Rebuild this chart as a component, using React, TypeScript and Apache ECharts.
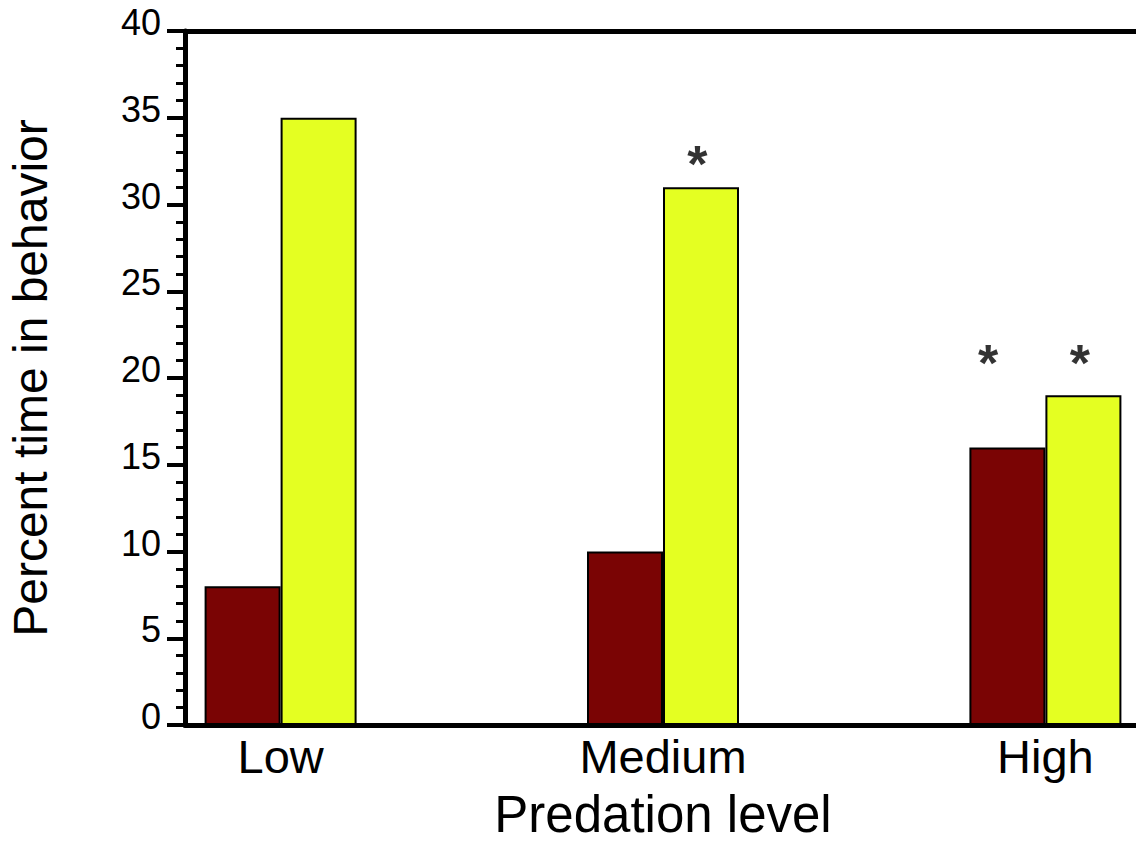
import React, { useEffect, useRef } from "react";
import * as echarts from "echarts";

const categories = ["Low", "Medium", "High"];
const brownValues = [8, 10, 16];
const yellowValues = [35, 31, 19];
// significance markers: [x position in category units, y value of marker centre]
const markerX = [1.09, 1.85, 2.09];
const markerY = [32.8, 21.3, 21.3];
const yTicks = { min: 0, max: 40, interval: 5 };

const FONT = "'Liberation Sans', Arial, Helvetica, sans-serif";

export default function App() {
  const ref = useRef<HTMLDivElement>(null);
  useEffect(() => {
    const chart = echarts.init(ref.current!, null, { renderer: "svg" });
    const xBase = {
      type: "value" as const,
      min: -0.25,
      max: 2.25,
      splitLine: { show: false },
      axisTick: { show: false },
    };
    chart.setOption({
      animation: false,
      backgroundColor: "#ffffff",
      grid: {
        left: 185,
        right: -5,
        top: 31,
        bottom: 118,
        containLabel: false,
        outerBoundsMode: "none",
      },
      xAxis: [
        {
          ...xBase,
          position: "bottom",
          axisLine: { show: true, onZero: false, lineStyle: { color: "#000", width: 5 } },
          axisLabel: {
            customValues: [0, 1, 2],
            formatter: (v: number) => categories[Math.round(v)] ?? "",
            color: "#000",
            fontFamily: FONT,
            fontSize: 47,
            margin: 8,
          },
          name: "Predation level",
          nameLocation: "middle",
          nameGap: 67,
          nameTextStyle: { color: "#000", fontFamily: FONT, fontSize: 51, lineHeight: 44 },
        },
        {
          ...xBase,
          position: "top",
          axisLine: { show: true, onZero: false, lineStyle: { color: "#000", width: 5 } },
          axisLabel: { show: false },
        },
      ],
      yAxis: {
        type: "value",
        min: yTicks.min,
        max: yTicks.max,
        interval: yTicks.interval,
        splitLine: { show: false },
        axisLine: { show: true, onZero: false, lineStyle: { color: "#000", width: 5 } },
        axisTick: { show: true, inside: false, length: 18, lineStyle: { color: "#000", width: 4 } },
        minorTick: { show: true, splitNumber: 5, length: 9, lineStyle: { color: "#000", width: 3 } },
        axisLabel: {
          color: "#000",
          fontFamily: FONT,
          fontSize: 36,
          margin: 24,
          verticalAlign: "bottom",
          lineHeight: 17,
        },
        name: "Percent time in behavior",
        nameLocation: "middle",
        nameRotate: 90,
        nameGap: 131,
        nameTextStyle: { color: "#000", fontFamily: FONT, fontSize: 48 },
      },
      series: [
        {
          type: "bar",
          xAxisIndex: 0,
          data: brownValues.map((v, i) => [i, v]),
          barWidth: 76,
          barGap: "0%",
          itemStyle: { color: "#7a0404", borderColor: "#000", borderWidth: 2 },
        },
        {
          type: "bar",
          xAxisIndex: 0,
          data: yellowValues.map((v, i) => [i, v]),
          barWidth: 76,
          barGap: "0%",
          itemStyle: { color: "#e4ff22", borderColor: "#000", borderWidth: 2 },
        },
        {
          type: "scatter",
          xAxisIndex: 0,
          data: markerX.map((x, i) => [x, markerY[i]]),
          symbolSize: 0,
          label: {
            show: true,
            position: "inside",
            formatter: "*",
            color: "#000",
            fontFamily: FONT,
            fontSize: 52,
            fontWeight: "bold",
            offset: [0, 8],
          },
        },
      ],
    });
    return () => chart.dispose();
  }, []);
  return (
    <div
      ref={ref}
      style={{ position: "absolute", left: 0, top: 0, width: 1136, height: 843 }}
    />
  );
}
